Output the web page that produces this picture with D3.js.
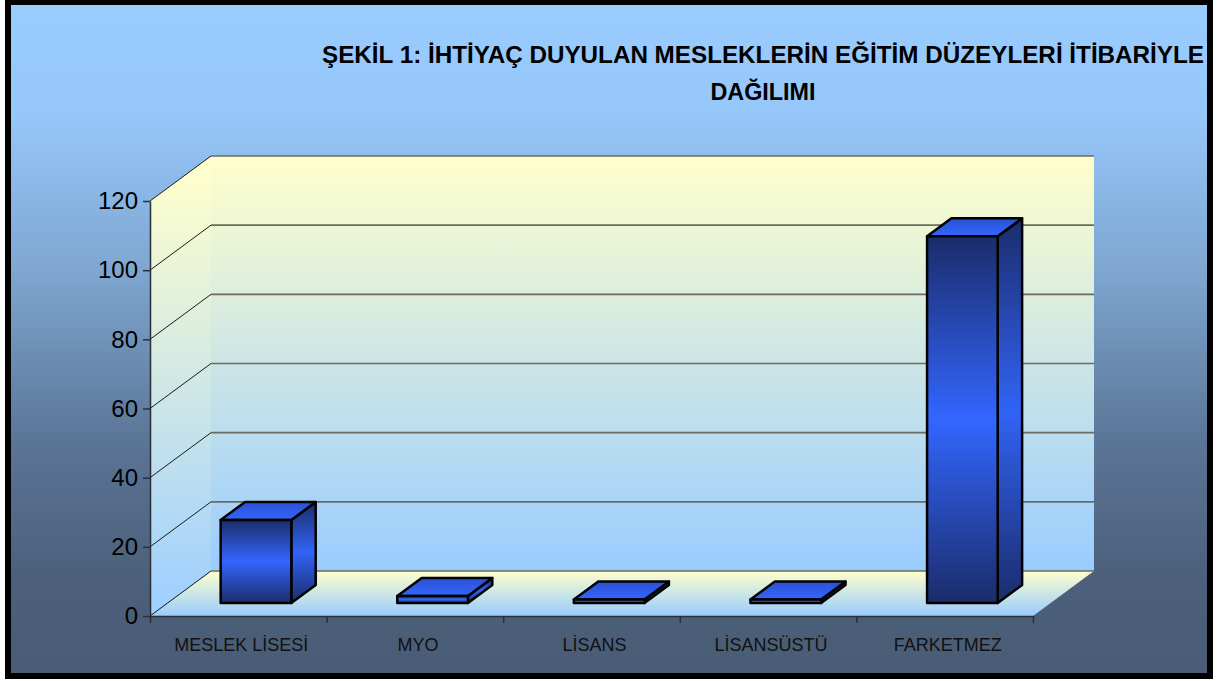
<!DOCTYPE html>
<html>
<head>
<meta charset="utf-8">
<script src="https://cdn.jsdelivr.net/npm/d3@7"></script>
<style>
  body { margin: 0; background: #fff; }
  svg { display: block; }
</style>
</head>
<body>
<div id="chart"></div>
<script>
// chart data
var categories = ['MESLEK LİSESİ', 'MYO', 'LİSANS', 'LİSANSÜSTÜ', 'FARKETMEZ'];
var counts = [24, 2, 1, 1, 106];
var yTicks = [0, 20, 40, 60, 80, 100, 120];
var titleLines = ['ŞEKİL 1: İHTİYAÇ DUYULAN MESLEKLERİN EĞİTİM DÜZEYLERİ İTİBARİYLE', 'DAĞILIMI'];

// layout of the pseudo 3d plot
var width = 1220, height = 681;
var plotLeft = 150, plotRight = 1033, plotBottom = 616, plotTop = 201;
var depthX = 61, depthY = 45;      // offset from front plane to back wall
var barFront = 0.29, barDepth = 0.4; // bar placement inside the depth

var svg = d3.select('#chart').append('svg')
    .attr('width', width)
    .attr('height', height);

var defs = svg.append('defs');

function linGrad(id, attrs, stops) {
    var g = defs.append('linearGradient').attr('id', id);
    Object.keys(attrs).forEach(function (k) { g.attr(k, attrs[k]); });
    stops.forEach(function (s) {
        g.append('stop').attr('offset', s[0]).attr('stop-color', s[1]);
    });
}

linGrad('bgGrad', {gradientUnits: 'userSpaceOnUse', x1: 0, y1: 0, x2: 0, y2: 679},
    [[0, '#99CCFF'], [0.17, '#96C7F9'], [0.4, '#7EA6D0'], [0.65, '#5B7596'], [0.85, '#4C607B'], [1, '#4A5C75']]);
linGrad('wallGrad', {gradientUnits: 'userSpaceOnUse', x1: 0, y1: 156, x2: 0, y2: 571},
    [[0, '#FFFFCC'], [1, '#99CCFF']]);
linGrad('sideGrad', {gradientUnits: 'userSpaceOnUse', x1: 0, y1: 170, x2: 0, y2: 600},
    [[0, '#FFFFCC'], [1, '#A0D0FF']]);
linGrad('floorGrad', {gradientUnits: 'userSpaceOnUse', x1: 0, y1: 571, x2: 0, y2: 616},
    [[0, '#FFFFCC'], [1, '#99CCFF']]);
linGrad('frontGrad', {x1: 0, y1: 0, x2: 0, y2: 1},
    [[0, '#1B2C6A'], [0.5, '#3366FF'], [1, '#1B2C6A']]);
linGrad('sideBarGrad', {x1: 0, y1: 0, x2: 0, y2: 1},
    [[0, '#1B2C6A'], [0.5, '#3163F5'], [1, '#1B2C6A']]);
linGrad('topGrad', {x1: 0, y1: 0, x2: 0, y2: 1},
    [[0, '#2A52D2'], [1, '#3366FF']]);

// frame
svg.append('rect')
    .attr('x', 8).attr('y', 2)
    .attr('width', 1202).attr('height', 674)
    .attr('fill', 'url(#bgGrad)')
    .attr('stroke', '#000')
    .attr('stroke-width', 6);

// scales
var xScale = d3.scaleBand()
    .domain(categories)
    .range([plotLeft, plotRight])
    .paddingInner(0.6)
    .paddingOuter(0.3);

var yScale = d3.scaleLinear()
    .domain([0, 120])
    .range([plotBottom, plotTop]);

var tickScale = d3.scaleLinear()
    .domain([0, categories.length])
    .range([plotLeft, plotRight]);

var backTop = yScale(120) - depthY, backBottom = yScale(0) - depthY;

// walls
svg.append('polygon')
    .attr('points', [[plotLeft, yScale(0)], [plotLeft, yScale(120)], [plotLeft + depthX, backTop], [plotLeft + depthX, backBottom]].join(' '))
    .attr('fill', 'url(#sideGrad)');

svg.append('rect')
    .attr('x', plotLeft + depthX)
    .attr('y', backTop)
    .attr('width', plotRight - plotLeft)
    .attr('height', backBottom - backTop)
    .attr('fill', 'url(#wallGrad)');

svg.append('polygon')
    .attr('points', [[plotLeft, yScale(0)], [plotRight, yScale(0)], [plotRight + depthX, backBottom], [plotLeft + depthX, backBottom]].join(' '))
    .attr('fill', 'url(#floorGrad)');

// gridlines
var grid = svg.append('g').attr('class', 'grid');
grid.selectAll('.back')
    .data(yTicks)
    .enter()
    .append('line')
    .attr('x1', plotLeft + depthX)
    .attr('x2', plotRight + depthX)
    .attr('y1', function (d) { return yScale(d) - depthY; })
    .attr('y2', function (d) { return yScale(d) - depthY; })
    .attr('stroke', '#6b6b62')
    .attr('stroke-width', 1.6);
grid.selectAll('.side')
    .data(yTicks)
    .enter()
    .append('line')
    .attr('x1', plotLeft)
    .attr('x2', plotLeft + depthX)
    .attr('y1', function (d) { return yScale(d); })
    .attr('y2', function (d) { return yScale(d) - depthY; })
    .attr('stroke', '#1a1a1a')
    .attr('stroke-width', 1);

// axes
var yAxis = svg.append('g')
    .attr('class', 'y-axis')
    .attr('transform', 'translate(' + plotLeft + ',0)')
    .call(d3.axisLeft(yScale).tickValues(yTicks).tickSize(7).tickPadding(5).tickSizeOuter(0));
yAxis.selectAll('text')
    .style('font-family', "'Liberation Sans', Arial, sans-serif")
    .style('font-size', '24px')
    .attr('fill', '#000');
yAxis.selectAll('line, path').attr('stroke', '#2b2f36').attr('stroke-width', 1.5);

var xAxis = svg.append('g')
    .attr('class', 'x-axis')
    .attr('transform', 'translate(0,' + plotBottom + ')')
    .call(d3.axisBottom(tickScale).tickValues(d3.range(categories.length + 1)).tickFormat('').tickSize(7).tickSizeOuter(0));
xAxis.selectAll('line, path').attr('stroke', '#2b2f36').attr('stroke-width', 1.5);

var labels = svg.append('g')
    .attr('class', 'x-labels')
    .attr('transform', 'translate(0,' + plotBottom + ')')
    .call(d3.axisBottom(xScale).tickSize(0).tickPadding(22));
labels.select('.domain').remove();
labels.selectAll('text')
    .attr('dx', 3)
    .style('font-family', "'Liberation Sans', Arial, sans-serif")
    .style('font-size', '18px')
    .attr('fill', '#111');

// bars
var bdx = barDepth * depthX, bdy = barDepth * depthY;
var bars = svg.append('g').attr('class', 'bars')
    .attr('stroke', '#000')
    .attr('stroke-width', 2.5)
    .attr('stroke-linejoin', 'round');

var barData = categories.map(function (c, i) { return { cat: c, value: counts[i] }; });

function bx(d) { return xScale(d.cat) + barFront * depthX; }
function by0() { return yScale(0) - barFront * depthY; }
function by1(d) { return yScale(d.value) - barFront * depthY; }

bars.selectAll('.side')
    .data(barData)
    .enter()
    .append('polygon')
    .attr('fill', 'url(#sideBarGrad)')
    .attr('points', function (d) {
        var x = bx(d) + xScale.bandwidth();
        return [[x, by1(d)], [x + bdx, by1(d) - bdy], [x + bdx, by0() - bdy], [x, by0()]].join(' ');
    });

bars.selectAll('.top')
    .data(barData)
    .enter()
    .append('polygon')
    .attr('fill', 'url(#topGrad)')
    .attr('points', function (d) {
        var x = bx(d), w = xScale.bandwidth(), y = by1(d);
        return [[x, y], [x + bdx, y - bdy], [x + w + bdx, y - bdy], [x + w, y]].join(' ');
    });

bars.selectAll('.front')
    .data(barData)
    .enter()
    .append('rect')
    .attr('fill', 'url(#frontGrad)')
    .attr('x', bx)
    .attr('y', by1)
    .attr('width', xScale.bandwidth())
    .attr('height', function (d) { return by0() - by1(d); });

// title
svg.append('g')
    .attr('class', 'title')
    .selectAll('text')
    .data(titleLines)
    .enter()
    .append('text')
    .attr('x', 763)
    .attr('y', function (d, i) { return 63 + i * 36.5; })
    .attr('text-anchor', 'middle')
    .attr('textLength', function (d, i) { return i == 0 ? 882 : 105; })
    .attr('lengthAdjust', 'spacingAndGlyphs')
    .style('font-family', "'Liberation Sans Narrow', 'Liberation Sans', Arial, sans-serif")
    .style('font-size', '24px')
    .style('font-weight', 'bold')
    .attr('fill', '#000')
    .text(function (d) { return d; });
</script>
</body>
</html>
